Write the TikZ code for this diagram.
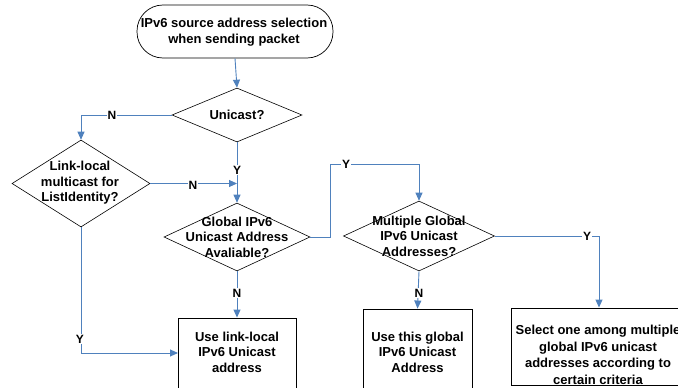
\documentclass[tikz,border=0pt]{standalone}
\usepackage{fontspec}
\setmainfont{Liberation Sans}
\usetikzlibrary{shapes.geometric,arrows.meta}
\definecolor{flow}{RGB}{79,129,189}
\tikzset{
  every node/.style={font=\fontsize{13}{15.5}\selectfont\bfseries},
  dia/.style={diamond, draw=black, line width=0.6pt, inner sep=0pt},
  box/.style={rectangle, draw=black, line width=0.9pt, inner sep=0pt},
  term/.style={rectangle, rounded corners=26pt, draw=black, line width=0.7pt, inner sep=0pt},
  txt/.style={align=center, inner sep=0pt},
  conn/.style={draw=flow, line width=0.9pt, -{Triangle[length=8pt,width=7pt]}},
  tag/.style={fill=white, inner sep=1pt, font=\fontsize{12}{14}\selectfont\bfseries}
}
\begin{document}
\begin{tikzpicture}[x=1pt,y=-1pt]
\useasboundingbox (0,0) rectangle (678,388);
\clip (0,0) rectangle (678,388);

% shapes
\node[term, minimum width=196pt, minimum height=53pt] (start) at (235,31.5) {};
\node[dia, minimum width=130pt, minimum height=54pt] (uni) at (237,115) {};
\node[dia, minimum width=138pt, minimum height=87pt] (ll) at (81,183.5) {};
\node[dia, minimum width=146pt, minimum height=68pt] (glob) at (237,237) {};
\node[dia, minimum width=151pt, minimum height=70pt] (mul) at (419,236) {};
\node[box, minimum width=118pt, minimum height=90pt] (b1) at (237,363) {};
\node[box, minimum width=109pt, minimum height=99pt] (b2) at (417.5,358.5) {};
\node[box, minimum width=176pt, minimum height=77pt] (b3) at (599,346.5) {};

% texts
\node[txt] (tstart) at (234,32) {IPv6 source address selection\\when sending packet};
\node[txt] (tuni) at (237,115) {Unicast?};
\node[txt] (tll) at (80,183) {Link-local\\multicast for\\ListIdentity?};
\node[txt] (tglob) at (237,237) {Global IPv6\\Unicast Address\\Avaliable?};
\node[txt] (tmul) at (419,236) {Multiple Global\\IPv6 Unicast\\Addresses?};
\node[txt] (tb1) at (237,352) {Use link-local\\IPv6 Unicast\\address};
\node[txt] (tb2) at (417.5,352) {Use this global\\IPv6 Unicast\\Address};
\node[txt, font=\fontsize{13}{16.5}\selectfont\bfseries] (tb3) at (598,355) {Select one among multiple\\global IPv6 unicast\\addresses according to\\certain criteria};

% helper points
\coordinate (jog) at (330,164);
\coordinate (b1in) at (178,353);

% connectors
\draw[conn] (start.south) -- (uni.north);
\draw[conn] (uni.west) -| (ll.north);
\draw[conn] (uni.south) -- (glob.north);
\draw[conn] (ll.east) -- (ll.east -| glob.north);
\draw[conn] (glob.east) -| (jog) -| (mul.north);
\draw[conn] (glob.south) -- (b1.north);
\draw[conn] (ll.south) |- (b1in);
\draw[conn] (mul.south) -- (b2.north);
\draw[conn] (mul.east) -| (b3.north);

% branch labels
\node[tag] (l1) at (112,115) {N};
\node[tag] (l2) at (237,170) {Y};
\node[tag] (l3) at (193,185) {N};
\node[tag] (l4) at (346,164) {Y};
\node[tag] (l5) at (237,293) {N};
\node[tag] (l6) at (80,339) {Y};
\node[tag] (l7) at (419,293) {N};
\node[tag] (l8) at (587,236) {Y};
\end{tikzpicture}
\end{document}
